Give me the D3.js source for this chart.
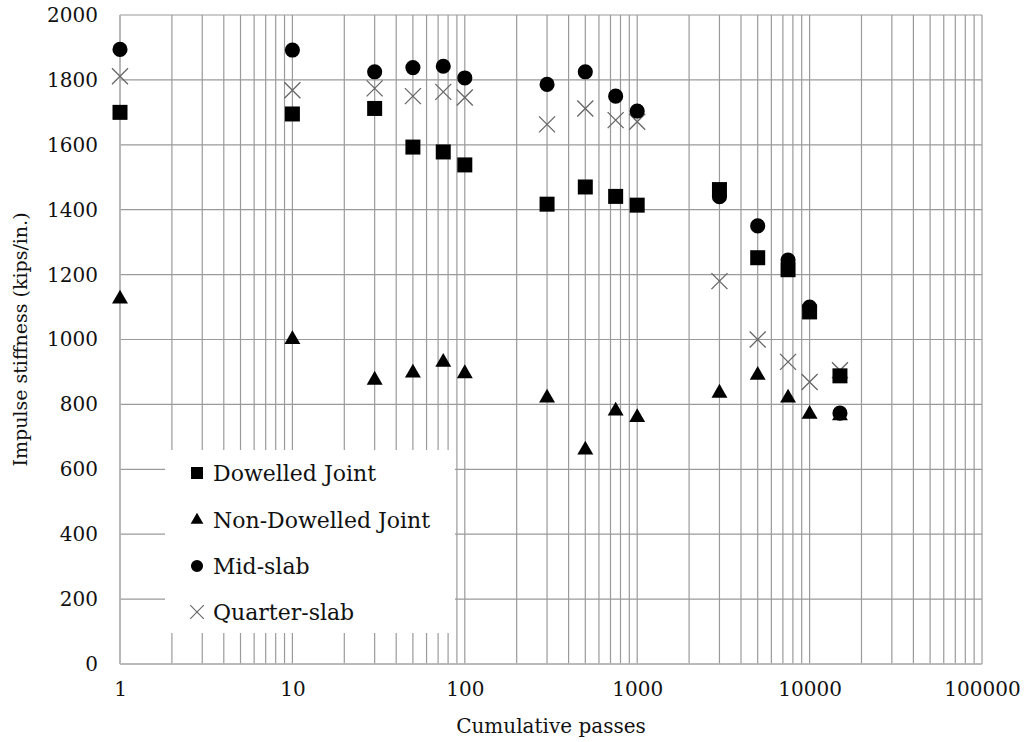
<!DOCTYPE html>
<html>
<head>
<meta charset="utf-8">
<script src="https://cdn.jsdelivr.net/npm/d3@7"></script>
<style>
  html, body { margin: 0; padding: 0; background: #fff; }
  svg { display: block; }
  text { font-family: "DejaVu Serif", Georgia, serif; fill: #111; }
</style>
</head>
<body>
<svg id="chart" width="1032" height="742"></svg>
<script>
// Cumulative passes at which stiffness was measured
const passes = [1, 10, 30, 50, 75, 100, 300, 500, 750, 1000, 3000, 5000, 7500, 10000, 15000];

// Impulse stiffness (kips/in.) per location
const dowelledJoint    = [1700, 1695, 1712, 1593, 1578, 1538, 1417, 1470, 1441, 1414, 1462, 1252, 1215, 1085, 888];
const nonDowelledJoint = [1125, 1000, 875, 897, 930, 895, 820, 660, 780, 760, 835, 890, 820, 770, 765];
const midSlab          = [1894, 1892, 1825, 1838, 1842, 1806, 1786, 1825, 1750, 1704, 1440, 1350, 1245, 1100, 773];
const quarterSlab      = [1811, 1768, 1774, 1750, 1763, 1746, 1663, 1712, 1676, 1671, 1180, 1000, 931, 869, 905];

const yTicks = [0, 200, 400, 600, 800, 1000, 1200, 1400, 1600, 1800, 2000];
const xTicks = [1, 10, 100, 1000, 10000, 100000];

const seriesNames = ["Dowelled Joint", "Non-Dowelled Joint", "Mid-slab", "Quarter-slab"];
const seriesShapes = ["square", "triangle", "circle", "cross"];
const seriesValues = [dowelledJoint, nonDowelledJoint, midSlab, quarterSlab];

const svg = d3.select("#chart");
const margin = { left: 120, right: 50, top: 15, bottom: 78 };
const W = 1032, H = 742;

const x = d3.scaleLog().domain([1, 100000]).range([margin.left, W - margin.right]);
const y = d3.scaleLinear().domain([0, 2000]).range([H - margin.bottom, margin.top]);

const gridColor = "#9a9a9a";

// Vertical gridlines at every log step (1..9 per decade)
const minorX = [];
for (let d = 1; d < 100000; d *= 10) {
  for (let k = 1; k <= 9; k++) minorX.push(d * k);
}
minorX.push(100000);

const grid = svg.append("g").attr("class", "grid");
grid.selectAll("line.vx").data(minorX).join("line")
  .attr("class", "vx")
  .attr("x1", d => x(d)).attr("x2", d => x(d))
  .attr("y1", y(0)).attr("y2", y(2000))
  .attr("stroke", gridColor).attr("stroke-width", 1.2);

grid.selectAll("line.hy").data(yTicks).join("line")
  .attr("class", "hy")
  .attr("x1", x(1)).attr("x2", x(100000))
  .attr("y1", d => y(d)).attr("y2", d => y(d))
  .attr("stroke", gridColor).attr("stroke-width", 1.2);

// Axis lines
svg.append("line")
  .attr("x1", x(1)).attr("x2", x(1)).attr("y1", y(0)).attr("y2", y(2000))
  .attr("stroke", "#b5b5b5").attr("stroke-width", 1.5);
svg.append("line")
  .attr("x1", x(1)).attr("x2", x(100000)).attr("y1", y(0)).attr("y2", y(0))
  .attr("stroke", "#b5b5b5").attr("stroke-width", 1.5);

// Y axis labels
const yAxis = d3.axisLeft(y).tickValues(yTicks).tickSize(0).tickPadding(22).tickFormat(d3.format("d"));
const gy = svg.append("g").attr("transform", `translate(${x(1)},0)`).call(yAxis);
gy.select(".domain").remove();
gy.selectAll("text").style("font-size", "20px").attr("fill", "#111");

// X axis labels
const xAxis = d3.axisBottom(x).tickValues(xTicks).tickSize(0).tickPadding(18).tickFormat(d3.format("d"));
const gx = svg.append("g").attr("transform", `translate(0,${y(0)})`).call(xAxis);
gx.select(".domain").remove();
gx.selectAll("text").style("font-size", "20px").attr("fill", "#111");

// Axis titles
svg.append("text")
  .attr("x", 551).attr("y", 733)
  .attr("text-anchor", "middle").style("font-size", "20px")
  .text("Cumulative passes");
svg.append("text")
  .attr("transform", `translate(27,${(y(0) + y(2000)) / 2}) rotate(-90)`)
  .attr("text-anchor", "middle").style("font-size", "19px")
  .text("Impulse stiffness (kips/in.)");

// Marker drawing
const sym = {
  square: d3.symbol(d3.symbolSquare, 225),
  triangle: d3.symbol(d3.symbolTriangle, 110),
  circle: d3.symbol(d3.symbolCircle, 180)
};
function drawMarker(g, shape) {
  if (shape === "cross") {
    const r = 8;
    g.append("path")
      .attr("d", `M${-r},${-r}L${r},${r}M${-r},${r}L${r},${-r}`)
      .attr("stroke", "#666").attr("stroke-width", 1.3).attr("fill", "none");
  } else {
    g.append("path").attr("d", sym[shape]()).attr("fill", "#000");
  }
}

// Draw series (quarter-slab underneath, then triangles, circles, squares)
const drawOrder = [3, 1, 2, 0];
const plot = svg.append("g").attr("class", "points");
drawOrder.forEach(si => {
  const pts = passes.map((p, i) => ({ p, v: seriesValues[si][i] }));
  plot.append("g").selectAll("g").data(pts).join("g")
    .attr("transform", d => `translate(${x(d.p)},${y(d.v)})`)
    .each(function () { drawMarker(d3.select(this), seriesShapes[si]); });
});

// Legend
const legend = svg.append("g").attr("class", "legend");
legend.append("rect")
  .attr("x", 165).attr("y", 450).attr("width", 290).attr("height", 183)
  .attr("fill", "#fff");
const rowY = [473, 520, 566, 612];
seriesNames.forEach((name, i) => {
  const row = legend.append("g").attr("transform", `translate(197,${rowY[i]})`);
  drawMarker(row, seriesShapes[i]);
  if (seriesShapes[i] === "cross") row.select("path").attr("transform", "scale(0.85)");
  else row.select("path").attr("transform", "scale(0.8)");
  legend.append("text")
    .attr("x", 213).attr("y", rowY[i]).attr("dy", "0.35em")
    .style("font-size", "22px")
    .text(name);
});
</script>
</body>
</html>
